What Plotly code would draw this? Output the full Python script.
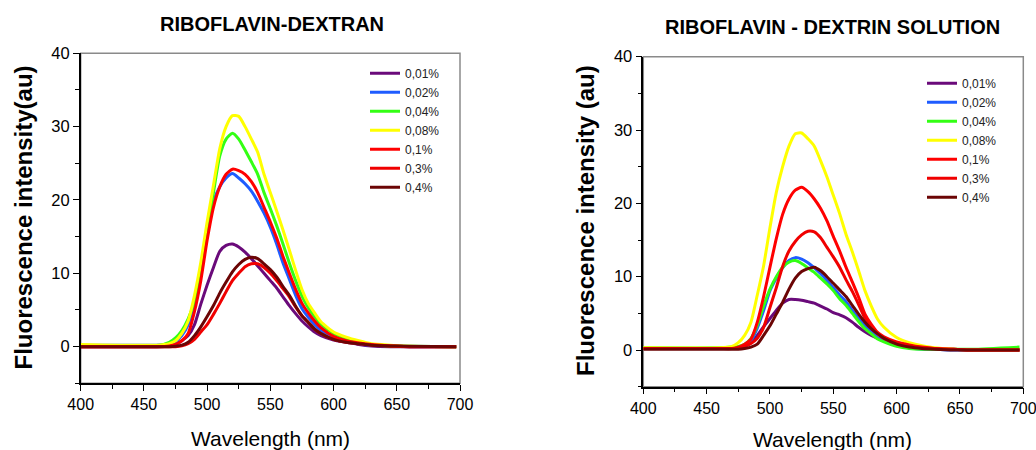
import plotly.graph_objects as go

# ---------------- data ----------------
wavelength = [400, 460, 470, 475, 480, 485, 490, 495, 500, 505, 510, 515, 520, 525,
              530, 535, 540, 545, 550, 555, 560, 565, 570, 575, 580, 585, 590, 600,
              610, 620, 630, 645, 660, 697]

labels = ["0,01%", "0,02%", "0,04%", "0,08%", "0,1%", "0,3%", "0,4%"]
colors = ["#6a0a7a", "#1f5cff", "#33ff14", "#ffff00", "#ff0000", "#f00000", "#6b0505"]

# Left panel: RIBOFLAVIN-DEXTRAN
dextran_001 = [0, 0, 0.1, 0.3, 0.8, 1.5, 3, 5.8, 8.4, 10.8, 13, 13.8, 14, 13.6, 12.9, 12, 11,
               10, 9, 8, 6.8, 5.6, 4.5, 3.5, 2.7, 2, 1.5, 0.9, 0.6, 0.3, 0.1, 0, 0, 0]
dextran_002 = [0.2, 0.2, 0.3, 0.7, 1.5, 3, 6, 10.5, 16, 19.8, 21.8, 23, 23.6, 23, 22.2, 21.2,
               19.8, 18.2, 16.3, 14, 11.4, 9.2, 7, 5.2, 4, 3, 2.2, 1.1, 0.7, 0.4, 0.2, 0.1, 0, 0]
dextran_004 = [0.1, 0.1, 0.6, 1.2, 2.2, 3.8, 6.2, 10, 15.5, 21, 26, 28.3, 29.1, 28.3, 26.8,
               25.2, 23.5, 21, 18.8, 16.5, 14, 11.4, 9, 6.9, 5.3, 4.1, 3.1, 1.8, 1.1, 0.6, 0.3,
               0.1, 0.05, 0]
dextran_008 = [0.3, 0.2, 0.4, 0.8, 1.8, 3.5, 7, 11.5, 17, 22, 27, 30, 31.5, 31.4, 30, 28.3,
               26.5, 23.5, 21, 18.5, 15.9, 13.2, 10.4, 7.8, 5.9, 4.6, 3.4, 2, 1.3, 0.8, 0.4,
               0.2, 0.05, 0]
dextran_01 = [0, 0, 0.1, 0.3, 0.8, 1.8, 4.8, 9, 14.5, 19, 21.8, 23.5, 24.2, 24, 23.5, 22.5,
              21, 19, 17, 14.8, 12.3, 10, 7.8, 5.9, 4.6, 3.5, 2.6, 1.4, 0.8, 0.5, 0.3, 0.1, 0, 0]
dextran_03 = [0, 0, 0, 0, 0.1, 0.4, 1, 2, 3, 4.4, 5.9, 7.5, 9, 10, 10.9, 11.3, 11.3, 10.8,
              10, 9, 7.9, 6.8, 5.4, 4.2, 3.3, 2.4, 1.8, 1, 0.6, 0.4, 0.2, 0.1, 0, 0]
dextran_04 = [0, 0, 0, 0.05, 0.2, 0.6, 1.5, 2.7, 4.1, 5.6, 7.3, 8.8, 10.2, 11.2, 11.9, 12.2,
              12, 11.3, 10.5, 9.5, 8.2, 7, 5.5, 4.2, 3.3, 2.4, 1.8, 1, 0.6, 0.4, 0.2, 0.1,
              0.05, 0]

# Right panel: RIBOFLAVIN - DEXTRIN SOLUTION
dextrin_001 = [0.2, 0.2, 0.2, 0.3, 0.5, 1, 2, 3.2, 4.3, 5.4, 6.4, 6.9, 6.9, 6.8, 6.6, 6.4,
               6.0, 5.6, 5.1, 4.8, 4.4, 3.8, 3.1, 2.5, 2.0, 1.6, 1.3, 0.9, 0.6, 0.4, 0.2, 0.1,
               0, 0]
dextrin_002 = [0.2, 0.2, 0.2, 0.3, 0.6, 1.3, 3, 5.4, 8.1, 9.8, 11.2, 12.2, 12.6, 12.4, 11.9,
               11.2, 10.4, 9.5, 8.5, 7.5, 6.6, 5.4, 4.3, 3.3, 2.5, 1.7, 1.2, 0.6, 0.3, 0.1,
               0.1, 0, 0, 0]
dextrin_004 = [0.3, 0.3, 0.4, 0.5, 0.8, 1.6, 3.4, 6, 8.3, 10, 11.3, 12, 12.2, 11.8, 11.2,
               10.6, 9.8, 9.0, 8.1, 7.0, 6.1, 5.0, 3.9, 2.9, 2.2, 1.5, 1.1, 0.5, 0.2, 0.1,
               0.1, 0.1, 0.1, 0.4]
dextrin_008 = [0.3, 0.3, 0.5, 1, 2, 3.8, 7.5, 11.5, 16.7, 21.5, 25, 27.8, 29.5, 29.6, 28.8,
               27.8, 25.8, 23.6, 21.1, 18.6, 15.8, 13.4, 10.8, 8.1, 6, 4.2, 3.1, 1.7, 1,
               0.6, 0.3, 0.1, 0, 0]
dextrin_01 = [0.2, 0.2, 0.2, 0.4, 0.8, 1.5, 3.8, 7.3, 11.3, 15.2, 18.5, 20.6, 21.8, 22.2,
              21.6, 20.6, 19.3, 17.6, 15.5, 13.5, 11.3, 9.3, 7.2, 4.9, 3.5, 2.4, 1.8, 1.1,
              0.7, 0.4, 0.2, 0.1, 0, 0]
dextrin_03 = [0.2, 0.2, 0.2, 0.3, 0.5, 0.9, 1.6, 3.1, 5.8, 8.5, 11.4, 13.5, 14.8, 15.7, 16.2,
              16.1, 15.3, 14, 12.7, 11.3, 9.6, 8, 6.2, 4.3, 3, 2.2, 1.6, 1, 0.6, 0.3, 0.2,
              0.1, 0, 0]
dextrin_04 = [0.1, 0.1, 0.1, 0.1, 0.2, 0.4, 0.8, 2, 3.3, 4.9, 6.5, 8.3, 9.8, 10.7, 11.1,
              11.3, 10.8, 10, 9.1, 8.2, 7.3, 6.1, 4.9, 3.8, 2.9, 2.2, 1.6, 0.8, 0.4, 0.2,
              0.1, 0, 0, 0]

left_series = [dextran_001, dextran_002, dextran_004, dextran_008, dextran_01, dextran_03, dextran_04]
right_series = [dextrin_001, dextrin_002, dextrin_004, dextrin_008, dextrin_01, dextrin_03, dextrin_04]

titles = ["RIBOFLAVIN-DEXTRAN", "RIBOFLAVIN - DEXTRIN SOLUTION"]
ytitles = ["Fluorescence intensity(au)", "Fluorescence intensity (au)"]
xtitle = "Wavelength (nm)"

FONT = "Liberation Sans, Arial, sans-serif"
W, H = 1036, 450

fig = go.Figure()

for i in range(len(labels)):
    fig.add_trace(go.Scatter(x=wavelength, y=left_series[i], name=labels[i], mode="lines",
                             line=dict(color=colors[i], width=3, shape="spline", smoothing=0.6),
                             xaxis="x", yaxis="y", legend="legend"))
for i in range(len(labels)):
    fig.add_trace(go.Scatter(x=wavelength, y=right_series[i], name=labels[i], mode="lines",
                             line=dict(color=colors[i], width=3, shape="spline", smoothing=0.6),
                             xaxis="x2", yaxis="y2", legend="legend2"))

# plot-area boxes in window pixels (x0, x1, ytop, ybottom)
left_box = (80.7, 460.0, 53.3, 383.3)
right_box = (643.3, 1023.3, 56.7, 386.7)

def px(x):
    return x / W

def py(y):
    return 1 - y / H

def xdom(b):
    return [px(b[0]), px(b[1])]

def ydom(b):
    return [py(b[3]), py(b[2])]

def xaxis_style(b):
    return dict(domain=xdom(b), range=[400, 700], dtick=50, tick0=400, automargin=False,
                ticks="outside", ticklen=6, tickwidth=1.2, tickcolor="black",
                showline=True, linecolor="black", linewidth=1.5, showgrid=False, zeroline=False,
                tickfont=dict(family=FONT, size=16, color="black"), ticklabeloverflow="allow",
                minor=dict(ticks="outside", ticklen=4, dtick=25, tick0=400, tickcolor="black", tickwidth=1),
                fixedrange=True)

def yaxis_style(b, anchor):
    return dict(domain=ydom(b), range=[-5, 40], dtick=10, tick0=0, anchor=anchor, automargin=False,
                ticks="outside", ticklen=6, tickwidth=1.2, tickcolor="black",
                showline=True, linecolor="black", linewidth=1.5, showgrid=False, zeroline=False,
                tickfont=dict(family=FONT, size=16.5, color="black"), ticklabeloverflow="allow",
                minor=dict(ticks="outside", ticklen=4, dtick=5, tick0=0, tickcolor="black", tickwidth=1),
                fixedrange=True)

shapes = []
for xr, yr in (("x domain", "y domain"), ("x2 domain", "y2 domain")):
    shapes.append(dict(type="rect", xref=xr, yref=yr, x0=0, x1=1, y0=0, y1=1,
                       line=dict(color="#8a8a8a", width=1.5), layer="below"))

def ann(text, x, y, size, angle=0):
    return dict(text=text, x=px(x), y=py(y), xref="paper", yref="paper", showarrow=False,
                textangle=angle, font=dict(family=FONT, size=size, color="black"),
                xanchor="center", yanchor="middle")

annotations = [
    ann("<b>" + titles[0] + "</b>", 272, 24, 20),
    ann("<b>" + titles[1] + "</b>", 832.5, 27, 20),
    ann("<b>" + ytitles[0] + "</b>", 22.5, 218, 24, -90),
    ann("<b>" + ytitles[1] + "</b>", 586, 221, 24, -90),
    ann(xtitle, 270, 438, 21),
    ann(xtitle, 832.5, 439, 21),
]

legend_common = dict(xanchor="left", yanchor="top", bgcolor="rgba(0,0,0,0)", borderwidth=0,
                     font=dict(family=FONT, size=12, color="#222"), itemwidth=30,
                     tracegroupgap=0, traceorder="normal")

fig.update_layout(
    width=W, height=H,
    autosize=False,
    margin=dict(l=0, r=0, t=0, b=0, pad=0, autoexpand=False),
    paper_bgcolor="white", plot_bgcolor="white",
    xaxis=xaxis_style(left_box),
    yaxis=yaxis_style(left_box, "x"),
    xaxis2=dict(xaxis_style(right_box), anchor="y2"),
    yaxis2=yaxis_style(right_box, "x2"),
    shapes=shapes,
    annotations=annotations,
    legend=dict(legend_common, x=px(365), y=py(58.7)),
    legend2=dict(legend_common, x=px(922), y=py(68.7)),
    showlegend=True,
)

fig.write_html("out.html", config={"displayModeBar": False},
               post_script="document.body.style.margin='0';document.body.style.overflow='hidden';")
